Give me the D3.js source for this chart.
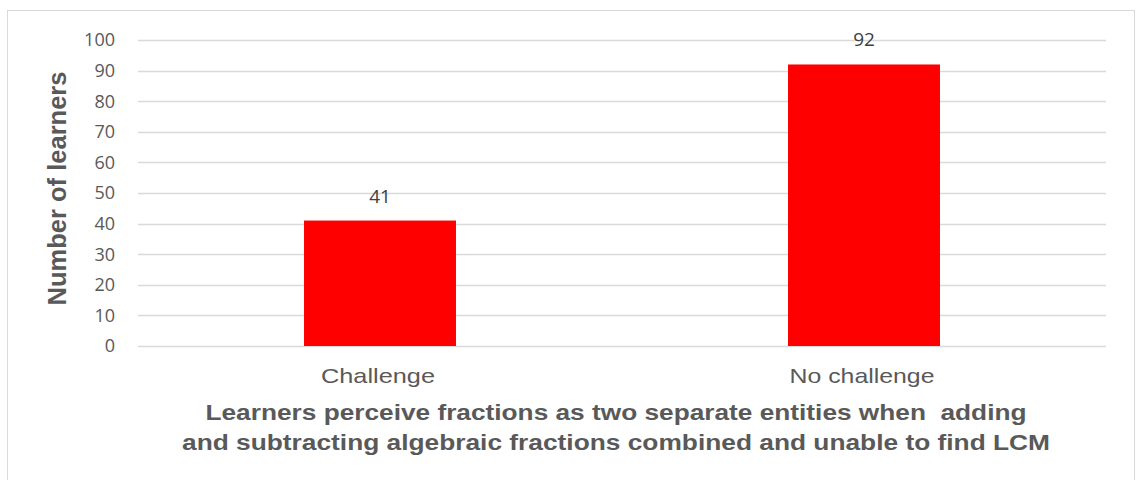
<!DOCTYPE html>
<html>
<head>
<meta charset="utf-8">
<script src="https://cdn.jsdelivr.net/npm/d3@7"></script>
<style>
  html, body { margin: 0; padding: 0; background: #fff; }
  svg { display: block; }
</style>
</head>
<body>
<svg id="chart" width="1136" height="480"></svg>
<script>
const categories = ["Challenge", "No challenge"];
const learners = [41, 92];
const yTicks = [0, 10, 20, 30, 40, 50, 60, 70, 80, 90, 100];
const yTitle = "Number of learners";
const xTitleLines = [
  "Learners perceive fractions as two separate entities when  adding",
  "and subtracting algebraic fractions combined and unable to find LCM"
];

const svg = d3.select("#chart");
const plot = { left: 138, right: 1106, top: 40, bottom: 346 };
const textColor = "#595959";

// chart frame
svg.append("rect")
  .attr("x", 7.5).attr("y", 10.5)
  .attr("width", 1127).attr("height", 480)
  .attr("fill", "#fff").attr("stroke", "#d9d9d9").attr("stroke-width", 1);

const x = d3.scaleBand().domain(categories).range([plot.left, plot.right]).padding(0);
const y = d3.scaleLinear().domain([0, 100]).range([plot.bottom, plot.top]);

// horizontal gridlines
svg.append("g").selectAll("line").data(yTicks).join("line")
  .attr("x1", plot.left).attr("x2", plot.right)
  .attr("y1", d => Math.round(y(d)) + 0.5).attr("y2", d => Math.round(y(d)) + 0.5)
  .attr("stroke", "#d9d9d9").attr("stroke-width", 1.5);

// y tick labels
svg.append("g").selectAll("text").data(yTicks).join("text")
  .attr("x", 115).attr("y", d => y(d))
  .attr("dy", "0.36em")
  .attr("text-anchor", "end")
  .attr("font-family", "'Open Sans', sans-serif")
  .attr("font-size", 18)
  .attr("fill", textColor)
  .text(d => d);

// bars
const barW = x.bandwidth() * 0.314;
svg.append("g").selectAll("rect").data(categories).join("rect")
  .attr("x", d => x(d) + x.bandwidth() / 2 - barW / 2)
  .attr("width", barW)
  .attr("y", (d, i) => y(learners[i]))
  .attr("height", (d, i) => y(0) - y(learners[i]))
  .attr("fill", "#ff0000");

// value labels
svg.append("g").selectAll("text").data(categories).join("text")
  .attr("x", d => x(d) + x.bandwidth() / 2)
  .attr("y", (d, i) => y(learners[i]) - 18)
  .attr("text-anchor", "middle")
  .attr("font-family", "'Open Sans', sans-serif")
  .attr("font-size", 19)
  .attr("fill", "#404040")
  .text((d, i) => learners[i]);

// category labels (wide Arial-style lettering)
const catWidths = [114, 145];
svg.append("g").selectAll("text").data(categories).join("text")
  .attr("x", d => x(d) + x.bandwidth() / 2 - 2)
  .attr("y", 383)
  .attr("text-anchor", "middle")
  .attr("font-family", "'Liberation Sans', Arial, sans-serif")
  .attr("font-size", 21)
  .attr("fill", textColor)
  .attr("textLength", (d, i) => catWidths[i])
  .attr("lengthAdjust", "spacingAndGlyphs")
  .text(d => d);

// x-axis title
const titleWidths = [821, 868];
svg.append("g").selectAll("text").data(xTitleLines).join("text")
  .attr("x", 616)
  .attr("y", (d, i) => 420 + i * 30)
  .attr("text-anchor", "middle")
  .attr("font-family", "'Liberation Sans', Arial, sans-serif")
  .attr("font-size", 22)
  .attr("font-weight", "bold")
  .attr("fill", textColor)
  .attr("textLength", (d, i) => titleWidths[i])
  .attr("lengthAdjust", "spacingAndGlyphs")
  .style("white-space", "pre")
  .text(d => d);

// y-axis title
svg.append("text")
  .attr("transform", "translate(66, 188.5) rotate(-90)")
  .attr("text-anchor", "middle")
  .attr("font-family", "'Liberation Sans', Arial, sans-serif")
  .attr("font-size", 25.5)
  .attr("font-weight", "bold")
  .attr("fill", textColor)
  .text(yTitle);
</script>
</body>
</html>
